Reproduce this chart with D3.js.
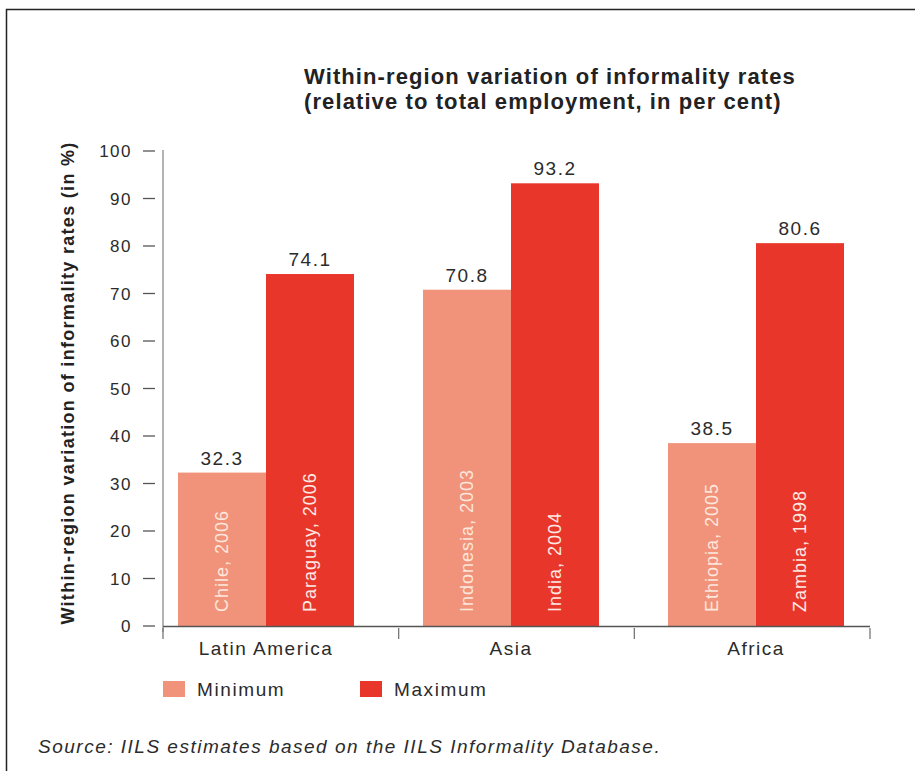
<!DOCTYPE html>
<html>
<head>
<meta charset="utf-8">
<script src="https://cdn.jsdelivr.net/npm/d3@7"></script>
<style>
  body { margin: 0; background: #fff; }
  svg { display: block; }
  text { font-family: "Liberation Sans", Arial, sans-serif; fill: #2b2b2b; }
</style>
</head>
<body>
<script>
// Informality rates by region: lowest and highest country in each region
const regions = ["Latin America", "Asia", "Africa"];
const seriesNames = ["Minimum", "Maximum"];
const minValues = [32.3, 70.8, 38.5];
const maxValues = [74.1, 93.2, 80.6];
const minCountries = ["Chile, 2006", "Indonesia, 2003", "Ethiopia, 2005"];
const maxCountries = ["Paraguay, 2006", "India, 2004", "Zambia, 1998"];
const yTickValues = [0, 10, 20, 30, 40, 50, 60, 70, 80, 90, 100];
const seriesColors = ["#f0937a", "#e8372a"];

const W = 915, H = 771;
const svg = d3.select("body").append("svg").attr("width", W).attr("height", H);

// outer frame
svg.append("rect")
  .attr("x", 6.5).attr("y", 9.5).attr("width", W).attr("height", H)
  .attr("fill", "none").attr("stroke", "#222").attr("stroke-width", 1.5);

// title
const title = svg.append("text")
  .attr("font-weight", "bold").attr("font-size", 22).attr("letter-spacing", 1.1)
  .style("fill", "#222");
title.append("tspan").attr("x", 304).attr("y", 84).text("Within-region variation of informality rates");
title.append("tspan").attr("x", 304).attr("y", 109).text("(relative to total employment, in per cent)");

// scales
const y = d3.scaleLinear().domain([0, 100]).range([626, 151]);
const xTick = d3.scaleBand().domain(regions).range([163, 870]);
const xGroup = d3.scalePoint().domain(regions).range([266, 756]);
const xSeries = d3.scaleBand().domain(seriesNames).range([-88, 88]);

// y axis
svg.append("line").attr("x1", 163).attr("x2", 163).attr("y1", 150).attr("y2", 632)
  .attr("stroke", "#9a9a9a").attr("stroke-width", 1.5);
const yt = svg.append("g");
yt.selectAll("line").data(yTickValues).join("line")
  .attr("x1", 143).attr("x2", 155)
  .attr("y1", d => y(d)).attr("y2", d => y(d))
  .attr("stroke", "#555").attr("stroke-width", 1.3);
yt.selectAll("text").data(yTickValues).join("text")
  .attr("x", 132).attr("y", d => y(d)).attr("dy", "0.36em")
  .attr("text-anchor", "end").attr("font-size", 17).attr("letter-spacing", 1.5)
  .text(d => d);

svg.append("text")
  .attr("transform", "translate(68,383) rotate(-90)")
  .attr("text-anchor", "middle").attr("dominant-baseline", "central")
  .attr("font-weight", "bold").attr("font-size", 18).attr("letter-spacing", 1.3)
  .style("fill", "#222")
  .text("Within-region variation of informality rates (in %)");

// bars
const rows = regions.map((r, i) => ({
  region: r,
  items: [
    { s: "Minimum", v: minValues[i], label: minCountries[i] },
    { s: "Maximum", v: maxValues[i], label: maxCountries[i] }
  ]
}));

const groups = svg.append("g").selectAll("g").data(rows).join("g")
  .attr("transform", d => `translate(${xGroup(d.region)},0)`);

groups.selectAll("rect").data(d => d.items).join("rect")
  .attr("x", d => xSeries(d.s)).attr("width", xSeries.bandwidth())
  .attr("y", d => y(d.v)).attr("height", d => y(0) - y(d.v))
  .attr("fill", (d, i) => seriesColors[i]);

groups.selectAll("text.val").data(d => d.items).join("text").attr("class", "val")
  .attr("x", d => xSeries(d.s) + xSeries.bandwidth() / 2)
  .attr("y", d => y(d.v) - 8)
  .attr("text-anchor", "middle").attr("font-size", 19).attr("letter-spacing", 1.5)
  .text(d => d.v.toFixed(1));

groups.selectAll("text.inner").data(d => d.items).join("text").attr("class", "inner")
  .attr("transform", d => `translate(${xSeries(d.s) + xSeries.bandwidth() / 2},612) rotate(-90)`)
  .attr("dominant-baseline", "central")
  .attr("font-size", 18).attr("letter-spacing", 1)
  .style("fill", (d, i) => i === 0 ? "#fde6dc" : "#fde9e4")
  .text(d => d.label);

// x axis
svg.append("line").attr("x1", 163).attr("x2", 870).attr("y1", 626.5).attr("y2", 626.5)
  .attr("stroke", "#555").attr("stroke-width", 1.5);
const xEdges = regions.map(r => xTick(r)).concat([xTick.range()[1]]);
svg.append("g").selectAll("line").data(xEdges).join("line")
  .attr("x1", d => d).attr("x2", d => d).attr("y1", 628).attr("y2", 639)
  .attr("stroke", "#777").attr("stroke-width", 1.3);
svg.append("g").selectAll("text").data(regions).join("text")
  .attr("x", d => xGroup(d)).attr("y", 655)
  .attr("text-anchor", "middle").attr("font-size", 19).attr("letter-spacing", 1.5)
  .text(d => d);

// legend
const legendX = [163, 360];
const lg = svg.append("g").selectAll("g").data(seriesNames).join("g")
  .attr("transform", (d, i) => `translate(${legendX[i]},681)`);
lg.append("rect").attr("width", 22).attr("height", 16).attr("fill", (d, i) => seriesColors[i]);
lg.append("text").attr("x", 34).attr("y", 15).attr("font-size", 19).attr("letter-spacing", 1.6).text(d => d);

// source note
svg.append("text").attr("x", 38).attr("y", 753)
  .attr("font-style", "italic").attr("font-size", 19).attr("letter-spacing", 1.5)
  .text("Source: IILS estimates based on the IILS Informality Database.");
</script>
</body>
</html>
